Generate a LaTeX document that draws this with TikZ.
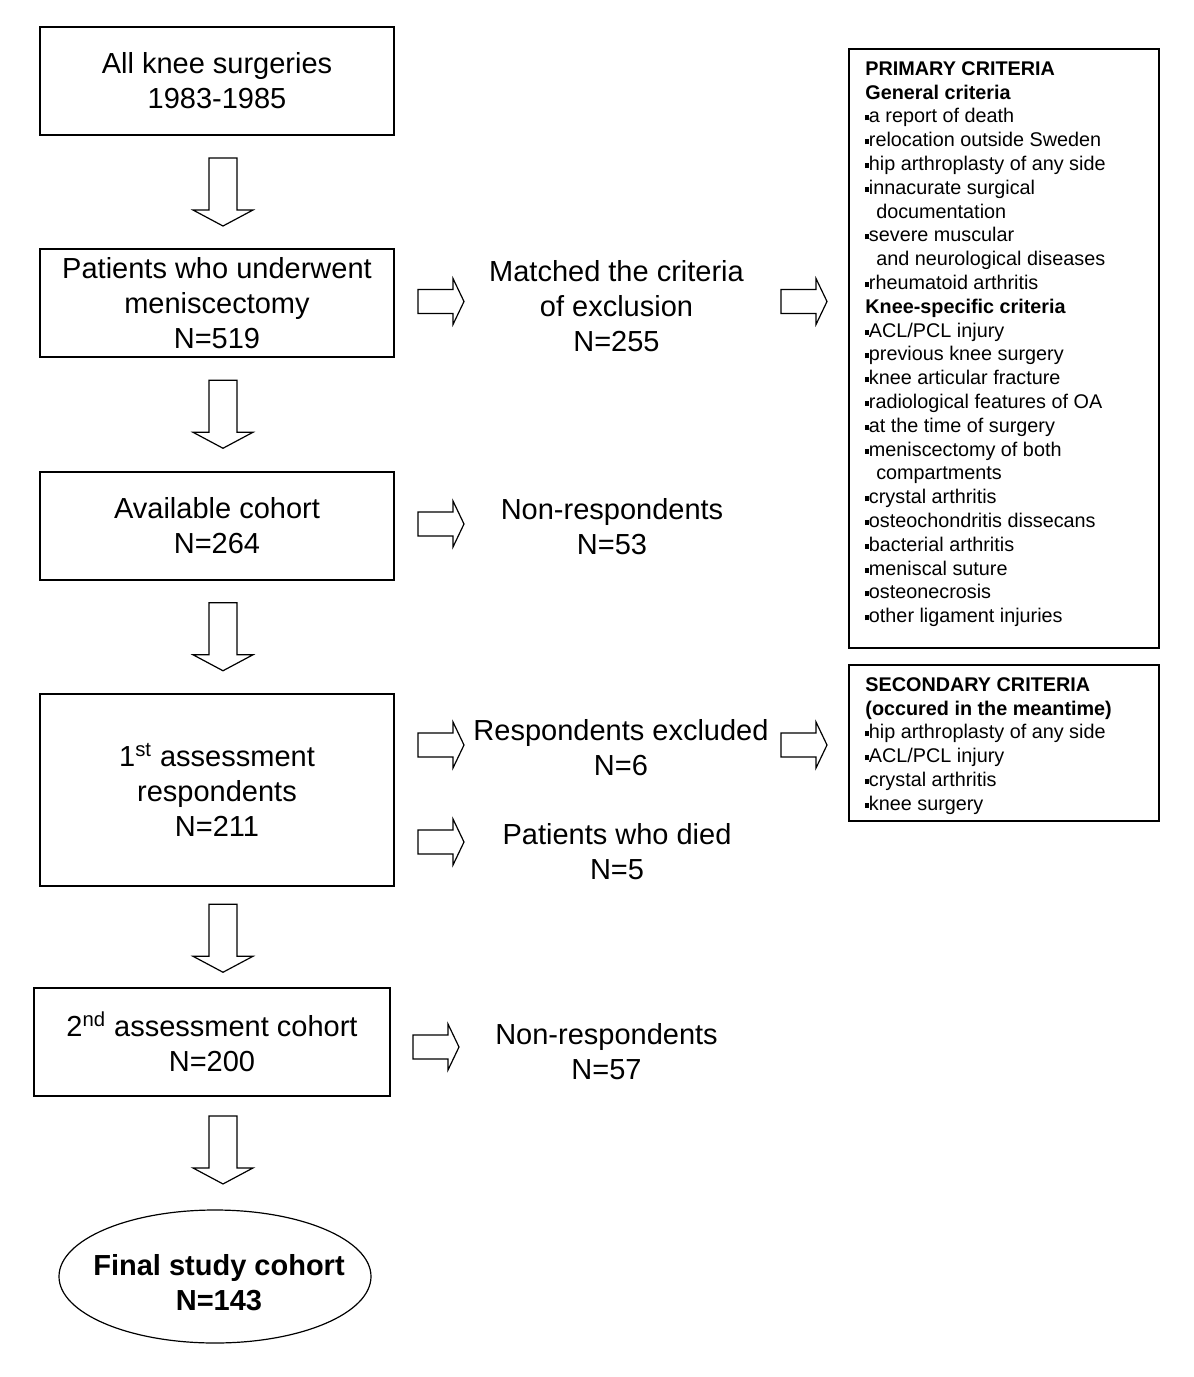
\documentclass[tikz,border=0pt]{standalone}
\usepackage{fontspec}
\setmainfont{Liberation Sans}
\usetikzlibrary{calc,shapes.geometric}
\newcommand{\bigtxt}{\fontsize{14.5}{17.5}\selectfont}
\newcommand{\smalltxt}{\fontsize{9.9}{11.9}\selectfont}
\newcommand{\bul}{\rule[0.12em]{0.18em}{0.26em}}
\newcommand{\ind}{\hspace*{0.55em}}
\tikzset{
  mainbox/.style={draw, line width=1pt, minimum width=177pt, minimum height=54pt,
    align=center, font=\bigtxt, inner sep=0pt},
  sidetxt/.style={align=center, font=\bigtxt, inner sep=0pt},
  critbox/.style={draw, line width=1pt, minimum width=155pt, inner sep=0pt},
  crittext/.style={align=left, font=\smalltxt, inner sep=0pt, anchor=north west},
  finalell/.style={ellipse, draw, line width=0.6pt, minimum width=156pt, minimum height=66.5pt,
    inner sep=0pt},
  finaltxt/.style={align=center, font=\bigtxt\bfseries, inner sep=0pt},
  darrow/.pic={\draw[line width=0.6pt, fill=white] (-14,-34) -- (14,-34) -- (14,18) -- (30,18)
      -- (0,34) -- (-30,18) -- (-14,18) -- cycle;},
  rarrow/.pic={\draw[line width=0.6pt, fill=white] (-23,-12) -- (12,-12) -- (12,-23) -- (23,0)
      -- (12,23) -- (12,12) -- (-23,12) -- cycle;}
}
\begin{document}
\begin{tikzpicture}[x=0.5pt, y=-0.5pt]
\useasboundingbox[fill=white] (0,0) rectangle (1194,1377);

% main column
\node[mainbox] (b1) at (217,81) {All knee surgeries\\1983-1985};
\node[mainbox] (b2) at (217,303) {Patients who underwent\\meniscectomy\\N=519};
\node[mainbox] (b3) at (217,525.5) {Available cohort\\N=264};
\node[mainbox, minimum height=96pt] (b4) at (217,790) {1\textsuperscript{st} assessment\\respondents\\N=211};
\node[mainbox, minimum width=178pt] (b5) at (212,1041.5) {2\textsuperscript{nd} assessment cohort\\N=200};
\node[finalell] (final) at (215,1276.5) {};
\node[finaltxt] (finaltext) at ($(final.center)+(4,6)$) {Final study cohort\\N=143};

% down arrows
\pic at ($(b1.south)!0.5!(b2.north)+(6,0)$) {darrow};
\pic at ($(b2.south)!0.5!(b3.north)+(6,0)$) {darrow};
\pic at ($(b3.south)!0.5!(b4.north)+(6,0)$) {darrow};
\pic at ($(b4.south)!0.5!(b5.north)+(8.5,1.5)$) {darrow};
\pic at ($(b5.south)!0.5!(final.north)+(9.5,-3)$) {darrow};

% side labels
\node[sidetxt] (matched) at (616.5,306) {Matched the criteria\\of exclusion\\N=255};
\node[sidetxt] (nonresp1) at (612,527) {Non-respondents\\N=53};
\node[sidetxt] (excl) at (621,748) {Respondents excluded\\N=6};
\node[sidetxt] (died) at (617,851.5) {Patients who died\\N=5};
\node[sidetxt] (nonresp2) at (606.5,1052) {Non-respondents\\N=57};

% criteria boxes
\node[critbox, minimum height=299.5pt, anchor=north west] (prim) at (848,48) {};
\node[crittext] (primtext) at ($(prim.north west)+(17,13)$) {%
\textbf{PRIMARY CRITERIA}\\
\textbf{General criteria}\\
\bul a report of death\\
\bul relocation outside Sweden\\
\bul hip arthroplasty of any side\\
\bul innacurate surgical\\
\ind documentation\\
\bul severe muscular\\
\ind and neurological diseases\\
\bul rheumatoid arthritis\\
\textbf{Knee-specific criteria}\\
\bul ACL/PCL injury\\
\bul previous knee surgery\\
\bul knee articular fracture\\
\bul radiological features of OA\\
\bul at the time of surgery\\
\bul meniscectomy of both\\
\ind compartments\\
\bul crystal arthritis\\
\bul osteochondritis dissecans\\
\bul bacterial arthritis\\
\bul meniscal suture\\
\bul osteonecrosis\\
\bul other ligament injuries};

\node[critbox, minimum height=78pt, anchor=north west] (sec) at (848,664) {};
\node[crittext] (sectext) at ($(sec.north west)+(17,13)$) {%
\textbf{SECONDARY CRITERIA}\\
\textbf{(occured in the meantime)}\\
\bul hip arthroplasty of any side\\
\bul ACL/PCL injury\\
\bul crystal arthritis\\
\bul knee surgery};

% side arrows
\pic at ($(b2.east)+(46,-1.5)$) {rarrow};
\pic at ($(b3.east)+(46,-1.5)$) {rarrow};
\pic at ($(b4.east)+(46,-45)$) {rarrow};
\pic at ($(b4.east)+(46,52)$) {rarrow};
\pic at ($(b5.east)+(45,5.5)$) {rarrow};
\pic at ($(prim.west |- b2.east)+(-44,-1.5)$) {rarrow};
\pic at ($(sec.west |- b4.east)+(-44,-45)$) {rarrow};
\end{tikzpicture}
\end{document}
